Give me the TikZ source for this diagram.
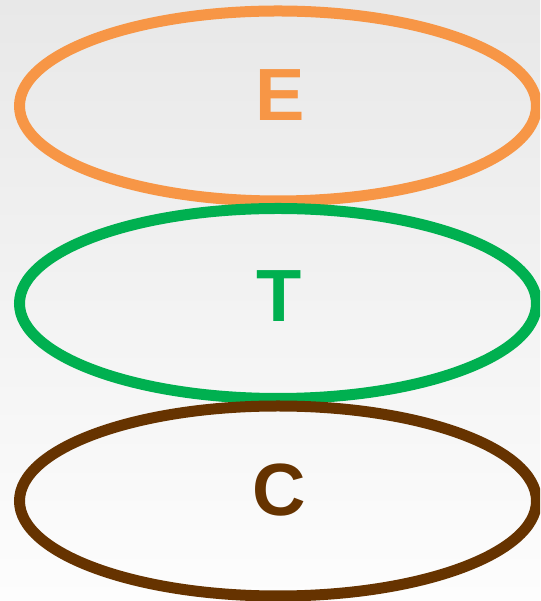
\documentclass[tikz,border=0pt]{standalone}
\usepackage{fontspec}
\setmainfont{Liberation Sans}
\usetikzlibrary{shapes.geometric}
\definecolor{eorange}{HTML}{F79646}
\definecolor{tgreen}{HTML}{00B050}
\definecolor{cbrown}{HTML}{663300}
\definecolor{bgtop}{HTML}{E8E8E8}
\definecolor{bgbot}{HTML}{FDFDFD}
\begin{document}
\begin{tikzpicture}[x=1pt,y=1pt,
  ring/.style={ellipse, draw, line width=11pt, inner sep=0pt,
    minimum width=517pt, minimum height=190pt},
  letter/.style={font=\fontsize{74}{74}\selectfont\bfseries, anchor=base, inner sep=0pt}]
\useasboundingbox (0,0) rectangle (540,601);
\shade[top color=bgtop, bottom color=bgbot] (0,0) rectangle (540,601);
\begin{scope}
\clip (0,0) rectangle (540,601);
\node[ring, eorange] (e) at (278,495) {};
\node[ring, tgreen] (t) at (278,297.5) {};
\node[ring, cbrown] (c) at (278,100) {};
\end{scope}
\node[letter, text=eorange] (el) at (280,480) {E};
\node[letter, text=tgreen] (tl) at (279,279) {T};
\node[letter, text=cbrown] (cl) at (279,85) {C};
\end{tikzpicture}
\end{document}
